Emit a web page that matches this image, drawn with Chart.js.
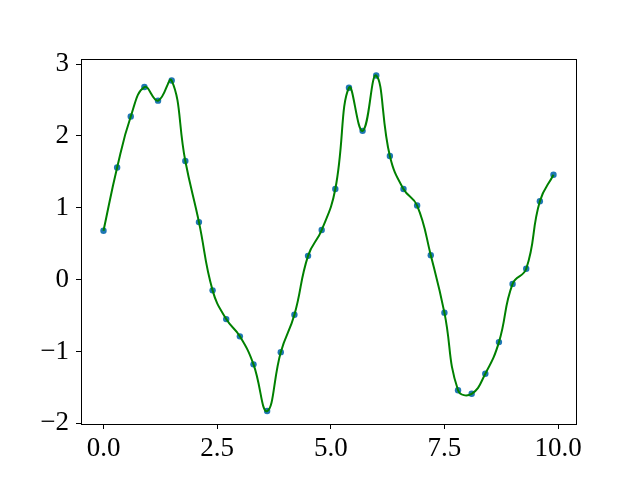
<!DOCTYPE html>
<html>
<head>
<meta charset="utf-8">
<script src="https://cdn.jsdelivr.net/npm/chart.js@4/dist/chart.umd.min.js"></script>
<style>
html,body{margin:0;padding:0;background:#fff;}
#wrap{width:640px;height:480px;}
</style>
</head>
<body>
<div id="wrap"><canvas id="c" width="640" height="480"></canvas></div>
<script>
const xValues = [0.0,0.3,0.6,0.9,1.2,1.5,1.8,2.1,2.4,2.7,3.0,3.3,3.6,3.9,4.2,4.5,4.8,5.1,5.4,5.7,6.0,6.3,6.6,6.9,7.2,7.5,7.8,8.1,8.4,8.7,9.0,9.3,9.6,9.9];
const yValues = [0.68,1.56,2.27,2.68,2.49,2.77,1.65,0.80,-0.15,-0.55,-0.79,-1.18,-1.83,-1.01,-0.49,0.33,0.69,1.26,2.67,2.07,2.84,1.72,1.26,1.03,0.34,-0.46,-1.54,-1.59,-1.31,-0.87,-0.06,0.15,1.09,1.46];
const xTicks = [0, 2.5, 5, 7.5, 10];
const yTicks = [-2, -1, 0, 1, 2, 3];

const pts = xValues.map((x, i) => ({x: x, y: yValues[i]}));
const FONT = {family: '"Liberation Serif", "DejaVu Serif", serif', size: 27};

const boxPlugin = {
  id: 'box',
  afterDatasetsDraw(chart) {
    const a = chart.chartArea, ctx = chart.ctx;
    ctx.save();
    ctx.strokeStyle = '#000';
    ctx.lineWidth = 1;
    ctx.strokeRect(Math.round(a.left) + 0.5, Math.round(a.top) + 0.5, Math.round(a.right - a.left), Math.round(a.bottom - a.top));
    ctx.restore();
  }
};

new Chart(document.getElementById('c'), {
  type: 'scatter',
  data: {
    datasets: [
      {
        type: 'line',
        data: pts,
        borderColor: '#008000',
        borderWidth: 2,
        pointRadius: 0,
        tension: 0.45,
        fill: false,
        order: 0
      },
      {
        type: 'scatter',
        data: pts,
        backgroundColor: '#1f77b4',
        borderWidth: 0,
        pointRadius: 3.2,
        order: 1
      }
    ]
  },
  options: {
    responsive: false,
    animation: false,
    devicePixelRatio: 1,
    layout: {padding: {left: 0, right: 64, top: 59, bottom: 0}},
    plugins: {legend: {display: false}, tooltip: {enabled: false}},
    scales: {
      x: {
        type: 'linear',
        min: -0.495,
        max: 10.395,
        afterBuildTicks: s => { s.ticks = xTicks.map(v => ({value: v})); },
        afterFit: s => { s.height = 56; },
        ticks: {
          font: FONT, color: '#000', padding: 4, maxRotation: 0, autoSkip: false,
          callback: v => v.toFixed(1)
        },
        grid: {display: true, drawOnChartArea: false, drawTicks: true, tickLength: 5, color: '#000', lineWidth: 1},
        border: {display: true, color: '#000', width: 1}
      },
      y: {
        type: 'linear',
        min: -2.01,
        max: 3.07,
        afterBuildTicks: s => { s.ticks = yTicks.map(v => ({value: v})); },
        afterFit: s => { s.width = 81; },
        ticks: {
          font: FONT, color: '#000', padding: 7, autoSkip: false,
          callback: v => (v < 0 ? '\u2212' + Math.abs(v) : String(v))
        },
        grid: {display: true, drawOnChartArea: false, drawTicks: true, tickLength: 5, color: '#000', lineWidth: 1},
        border: {display: true, color: '#000', width: 1}
      }
    }
  },
  plugins: [boxPlugin]
});
</script>
</body>
</html>
